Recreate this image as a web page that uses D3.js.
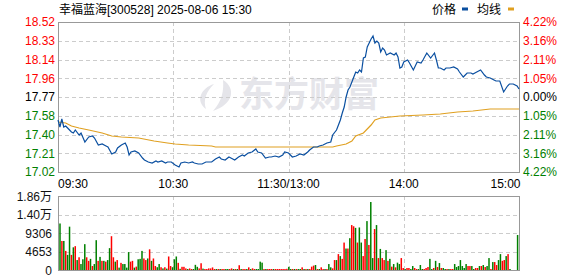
<!DOCTYPE html>
<html><head><meta charset="utf-8">
<script src="https://cdn.jsdelivr.net/npm/d3@7"></script>
<style>html,body{margin:0;padding:0;background:#fff;} svg{display:block;}</style>
</head><body>
<svg id="chart" width="578" height="276"></svg>
<script>
// ---------- data ----------
const title = "幸福蓝海[300528] 2025-08-06 15:30";
const legendLabels = ["价格", "均线"];
const preClose = 17.77;
const priceMin = 17.02, priceMax = 18.52;
const priceTickLabels = ["18.52","18.33","18.14","17.96","17.77","17.58","17.40","17.21","17.02"];
const pctTickLabels = ["4.22%","3.16%","2.11%","1.05%","0.00%","1.05%","2.11%","3.16%","4.22%"];
const timeLabels = ["09:30","10:30","11:30/13:00","14:00","15:00"];
const timeLabelMinutes = [0, 60, 120, 180, 240];
const volTickLabels = ["1.86万","1.40万","9306","4653","0"];
const volTickValues = [18612, 13959, 9306, 4653, 0];

const priceMinutes = [0,1,2,3,4,5,7,8,9,11,12,14,16,18,19,21,23,25,26,28,30,31,33,35,36,37,38,40,42,44,45,47,49,51,52,54,56,57,59,61,63,64,66,68,70,71,73,75,77,78,80,82,84,85,87,89,90,92,94,96,97,99,101,103,104,106,108,110,111,113,115,117,118,120,122,124,126,128,130,131,133,135,136,138,140,142,143,145,146,147,148,149,150,151,152,153,154,155,156,157,158,159,160,161,162,163,164,165,166,167,168,169,170,171,173,175,176,177,178,179,180,182,183,185,187,189,190,192,194,196,197,198,199,201,202,204,206,208,209,211,213,215,216,218,220,222,223,225,227,228,230,232,234,235,237,239,240];
const prices = [17.54,17.47,17.55,17.47,17.48,17.46,17.42,17.41,17.44,17.39,17.41,17.32,17.37,17.38,17.36,17.29,17.30,17.28,17.27,17.20,17.22,17.26,17.29,17.31,17.27,17.19,17.22,17.23,17.21,17.16,17.14,17.12,17.11,17.13,17.12,17.13,17.11,17.12,17.12,17.09,17.07,17.11,17.12,17.11,17.12,17.11,17.10,17.10,17.12,17.12,17.12,17.15,17.17,17.15,17.14,17.17,17.16,17.14,17.17,17.19,17.18,17.21,17.22,17.25,17.22,17.21,17.16,17.17,17.17,17.18,17.17,17.19,17.22,17.21,17.17,17.18,17.20,17.19,17.22,17.24,17.27,17.27,17.28,17.29,17.31,17.32,17.39,17.44,17.49,17.54,17.61,17.67,17.77,17.84,17.87,17.92,17.97,18.02,18.01,18.04,18.02,18.16,18.17,18.27,18.31,18.35,18.38,18.31,18.33,18.31,18.22,18.26,18.24,18.19,18.21,18.19,18.21,18.17,18.06,18.07,18.12,18.14,18.11,18.04,18.12,18.11,18.14,18.21,18.16,18.21,18.14,18.06,18.06,18.04,18.06,18.06,18.07,18.05,18.02,17.97,18.01,18.01,18.00,18.02,18.04,17.99,17.97,17.96,17.94,17.93,17.93,17.82,17.88,17.90,17.90,17.88,17.85];

const avgMinutes = [0,4,7,11,16,23,28,33,42,50,57,61,68,80,82,110,121,143,145,150,153,155,159,163,165,168,173,178,190,199,208,216,225,240];
const avgPrices  = [17.52,17.51,17.48,17.46,17.44,17.41,17.38,17.37,17.36,17.33,17.31,17.30,17.29,17.28,17.27,17.27,17.27,17.27,17.28,17.30,17.33,17.38,17.41,17.49,17.54,17.56,17.57,17.58,17.59,17.60,17.62,17.63,17.65,17.65];

const volumes = [
11700,7300,7300,4800,3800,10900,3800,5700,6000,2500,
3200,1500,2700,6500,3200,2300,2800,1000,1500,7500,
2300,3300,2300,2300,2100,2500,5500,8500,3200,2100,
2500,600,1800,1500,1500,600,4500,2100,2300,600,
850,2700,2800,4800,2900,2500,2900,5200,2300,2900,
1000,700,1500,700,400,700,350,3400,1000,700,
2700,3400,1800,300,800,800,400,250,400,250,
250,1300,800,400,1700,350,250,250,400,400,
650,250,250,250,250,250,250,250,250,250,
400,250,250,250,1200,250,250,250,250,670,
250,420,250,250,250,2100,1850,250,250,250,
250,250,250,250,250,250,250,250,250,300,
800,250,250,250,250,250,250,670,250,250,
250,250,840,1100,1260,250,250,670,250,250,
250,1500,670,420,2500,2500,4000,3500,2800,6900,
5400,5400,8000,11300,11000,10600,6900,10700,6900,3500,
7800,12300,6300,17100,3000,10300,11300,3000,5300,3000,
2500,5000,2300,2800,840,1500,670,1850,1500,3000,
500,250,500,500,250,1000,500,250,250,1260,
250,250,500,750,2800,250,500,2300,750,1750,
500,500,250,250,250,250,250,1500,750,1000,
2500,1000,500,1500,1000,1000,1000,250,500,500,
1000,1000,1250,750,1000,3000,250,2000,2000,1250,
2500,4000,2300,2500,3500,4000,250,0,0,0,
8800];
const volDirs = (
"grgrggrgrg" + "rgggrrgrgg" + "rgrgrggrrg" + "rgrggggrrg" + "rgggrrgrgr" +
"rggrgrgrrg" + "ggrgrrrgrr" + "gggrrgrrrr" + "rrgrgrrggr" + "rgrgrgrrgr" +
"grrggggrgr" + "rrgrrrrrrr" + "ggrgrggrgr" + "grrrgrgrrg" + "rggrrgrgrr" +
"grgrrgrggr" + "rgrggrgrgr" + "rgrgrgrggr" + "rgrrggrrgg" + "grrrggrgrg" +
"rggrgrrggg" + "ggggrrggrr" + "grgrggrgrr" + "ggrrgrgggg" + "g").split("");

// ---------- layout ----------
const L = 58, R = 519, T = 22, B = 172, VT = 196, VB = 270;
const font = "'Liberation Sans', Arial, 'Noto Sans CJK SC', sans-serif";
const RED = "#ff0000", GREEN = "#008000", BLACK = "#000000";
const svg = d3.select("#chart").style("font-family", font);

const x = d3.scaleLinear().domain([0, 240]).range([L, R]);
const xv = d3.scaleLinear().domain([0, 240]).range([60, 517.6]);
const yP = d3.scaleLinear().domain([priceMin, priceMax]).range([B, T]);
const yV = d3.scaleLinear().domain([0, 18612]).range([VB, VT]);
const crisp = v => Math.round(v) + 0.5;

// watermark
const wm = svg.append("g").attr("fill", "#e5e5ea");
wm.append("path").attr("d", "M223,80 C236,88 234,104 213,111 C222,101 224,91 223,80 Z");
wm.append("path").attr("d", "M214,84 C201,88 195,101 206,109 C203,100 206,92 214,84 Z");
wm.append("text").attr("x", 239).attr("y", 107).attr("font-size", 35).attr("font-weight", "bold")
  .attr("font-family", "'Noto Sans CJK SC', sans-serif").attr("fill", "#e5e5ea").text("东方财富");

// grids
const grid = svg.append("g").attr("stroke", "#cccccc").attr("stroke-dasharray", "4,3").attr("stroke-width", 1);
for (let i = 1; i < 8; i++) {
  const yy = crisp(T + i * (B - T) / 8);
  grid.append("line").attr("x1", L).attr("x2", R).attr("y1", yy).attr("y2", yy);
}
for (let i = 1; i < 4; i++) {
  const yy = crisp(yV(volTickValues[i]));
  grid.append("line").attr("x1", L).attr("x2", R).attr("y1", yy).attr("y2", yy);
}
[60, 120, 180].forEach(m => {
  const xx = crisp(x(m));
  grid.append("line").attr("x1", xx).attr("x2", xx).attr("y1", T).attr("y2", B);
  grid.append("line").attr("x1", xx).attr("x2", xx).attr("y1", VT).attr("y2", VB);
});

// borders
const bd = svg.append("g").attr("fill", "none").attr("stroke", "#999999").attr("stroke-width", 1);
bd.append("rect").attr("x", L + 0.5).attr("y", T + 0.5).attr("width", R - L).attr("height", B - T);
bd.append("rect").attr("x", L + 0.5).attr("y", VT + 0.5).attr("width", R - L).attr("height", VB - VT);

// volume bars
svg.append("g").selectAll("rect").data(volumes).join("rect")
  .attr("x", (d, i) => xv(i) - 0.75)
  .attr("width", 1.5)
  .attr("y", d => yV(d))
  .attr("height", d => VB - yV(d))
  .attr("fill", (d, i) => volDirs[i] === "r" ? RED : GREEN);

// lines
const avgData = avgMinutes.map((m, i) => ({ m, p: avgPrices[i] }));
const priceData = priceMinutes.map((m, i) => ({ m, p: prices[i] }));
const line = d3.line().x(d => x(d.m)).y(d => yP(d.p));
svg.append("path").datum(avgData).attr("d", line).attr("fill", "none")
  .attr("stroke", "#e0a020").attr("stroke-width", 1.2);
svg.append("path").datum(priceData).attr("d", line).attr("fill", "none")
  .attr("stroke", "#0a4fa0").attr("stroke-width", 1.2);

// price labels
const labelColor = i => i < 4 ? RED : (i === 4 ? BLACK : GREEN);
priceTickLabels.forEach((t, i) => {
  const yy = T + i * (B - T) / 8;
  svg.append("text").attr("x", 55).attr("y", yy + 4.3).attr("text-anchor", "end")
    .attr("font-size", 12).attr("fill", labelColor(i)).text(t);
});
pctTickLabels.forEach((t, i) => {
  const yy = T + i * (B - T) / 8;
  svg.append("text").attr("x", 523).attr("y", yy + 4.3).attr("text-anchor", "start")
    .attr("font-size", 12).attr("fill", labelColor(i)).text(t);
});

// time labels
timeLabels.forEach((t, i) => {
  const m = timeLabelMinutes[i];
  const anchor = i === 0 ? "start" : (i === timeLabels.length - 1 ? "end" : "middle");
  const xx = i === timeLabels.length - 1 ? x(m) + 1.5 : x(m);
  svg.append("text").attr("x", xx).attr("y", 188).attr("text-anchor", anchor)
    .attr("font-size", 12).attr("fill", BLACK).text(t);
});

// volume labels
volTickLabels.forEach((t, i) => {
  svg.append("text").attr("x", 52).attr("y", yV(volTickValues[i]) + 4.5).attr("text-anchor", "end")
    .attr("font-size", 12).attr("fill", "#111").text(t);
});

// title & legend
svg.append("text").attr("x", 59).attr("y", 14).attr("font-size", 12).attr("fill", BLACK).text(title);
svg.append("text").attr("x", 432).attr("y", 14).attr("font-size", 12).attr("fill", BLACK).text(legendLabels[0]);
svg.append("rect").attr("x", 462).attr("y", 7.5).attr("width", 6).attr("height", 3).attr("fill", "#0a4fa0");
svg.append("text").attr("x", 477).attr("y", 14).attr("font-size", 12).attr("fill", BLACK).text(legendLabels[1]);
svg.append("rect").attr("x", 508).attr("y", 7.5).attr("width", 6).attr("height", 3).attr("fill", "#e0a020");
</script>
</body></html>
